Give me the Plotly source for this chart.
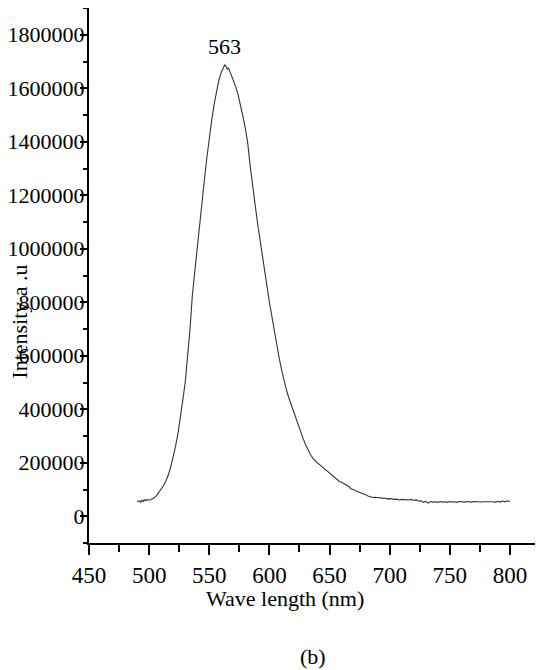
import plotly.graph_objects as go

# Emission spectrum values
wavelength = [
    490, 492, 493, 494, 495, 496, 497, 498, 500, 502, 504, 506, 508, 510,
    512, 514, 516, 518, 520, 522, 524, 526, 528, 530, 532, 534, 536, 538,
    540, 542, 544, 546, 548, 550, 552, 554, 556, 558, 560, 562, 563, 564,
    565, 566, 567, 568, 570, 572, 574, 576, 578, 580, 582, 584, 586, 588,
    590, 592, 594, 596, 598, 600, 602, 604, 606, 608, 610, 612, 614, 616,
    618, 620, 622, 624, 626, 628, 630, 632, 634, 636, 638, 640, 642, 644,
    646, 648, 650, 652, 654, 656, 658, 660, 662, 664, 666, 668, 670, 672,
    674, 676, 678, 680, 682, 684, 686, 688, 690, 692, 694, 696, 698, 700,
    702, 704, 706, 708, 710, 712, 714, 716, 718, 720, 722, 724, 726, 728,
    730, 732, 734, 736, 738, 740, 742, 744, 746, 748, 750, 752, 754, 756,
    758, 760, 762, 764, 766, 768, 770, 772, 774, 776, 778, 780, 782, 784,
    786, 788, 790, 792, 794, 796, 798, 800,
]
intensity = [
    54000, 57000, 52000, 60000, 55000, 62000, 58000, 62000, 60000, 63000,
    68000, 76000, 88000, 100000, 115000, 133000, 155000, 185000, 220000,
    262000, 310000, 365000, 435000, 500000, 590000, 700000, 830000, 920000,
    1010000, 1095000, 1180000, 1260000, 1340000, 1415000, 1480000, 1540000,
    1590000, 1630000, 1660000, 1678000, 1688000, 1682000, 1670000, 1676000,
    1665000, 1655000, 1630000, 1605000, 1575000, 1540000, 1495000, 1450000,
    1395000, 1310000, 1235000, 1170000, 1100000, 1040000, 975000, 915000,
    860000, 800000, 745000, 690000, 640000, 595000, 550000, 510000, 475000,
    445000, 418000, 392000, 366000, 340000, 315000, 291000, 268000, 248000,
    232000, 218000, 207000, 199000, 192000, 184000, 178000, 168000, 162000,
    152000, 145000, 138000, 131000, 127000, 122000, 115000, 111000, 102000,
    100000, 94000, 91000, 86000, 83000, 80000, 76000, 74000, 70000, 71000,
    69000, 70000, 67000, 68000, 65000, 66000, 64000, 63000, 64000, 61000,
    63000, 62000, 60000, 61000, 63000, 60000, 61000, 57000, 58000, 52000,
    56000, 49000, 55000, 53000, 54000, 52000, 55000, 53000, 54000, 52000,
    55000, 53000, 54000, 52000, 55000, 54000, 53000, 55000, 54000, 53000,
    55000, 54000, 55000, 53000, 54000, 54000, 55000, 53000, 54000, 52000,
    56000, 53000, 57000, 54000, 58000, 55000,
]
peak_label = "563"

x_tickvals = [450, 500, 550, 600, 650, 700, 750, 800]
y_tickvals = [0, 200000, 400000, 600000, 800000, 1000000, 1200000,
              1400000, 1600000, 1800000]

font_family = "Liberation Serif"
text_font = dict(family=font_family, size=22, color="black")

fig = go.Figure()

fig.add_trace(go.Scatter(
    x=wavelength,
    y=intensity,
    mode="lines",
    line=dict(color="#333333", width=1.1),
    showlegend=False,
))

peak_i = intensity.index(max(intensity))
fig.add_annotation(
    x=wavelength[peak_i], y=intensity[peak_i],
    text=peak_label, showarrow=False,
    xanchor="center", yanchor="middle", yshift=18,
    font=text_font,
)

# axis title on the left sits a bit lower than the axis centre
fig.add_annotation(
    x=-0.156, y=0.413, xref="paper", yref="paper",
    text="Intensity a .u", textangle=-90, showarrow=False,
    xanchor="center", yanchor="middle",
    font=text_font,
)
fig.add_annotation(
    x=0.435, y=-0.103, xref="paper", yref="paper",
    text="Wave length (nm)", showarrow=False,
    xanchor="center", yanchor="middle",
    font=text_font,
)
fig.add_annotation(
    x=0.497, y=-0.213, xref="paper", yref="paper",
    text="(b)", showarrow=False,
    xanchor="center", yanchor="middle",
    font=text_font,
)

fig.update_xaxes(
    range=[450, 825],
    tickvals=x_tickvals,
    ticks="outside", ticklen=10, tickwidth=1.5, tickcolor="black",
    minor=dict(dtick=25, tick0=450, ticks="outside", ticklen=7,
               tickwidth=1.5, tickcolor="black"),
    showline=True, linecolor="black", linewidth=2,
    showgrid=False, zeroline=False, automargin=False,
    tickfont=dict(family=font_family, size=23, color="black"),
)
fig.update_yaxes(
    range=[-100000, 1900000],
    tickvals=y_tickvals,
    tickformat="d",
    ticks="outside", ticklen=7, tickwidth=1.5, tickcolor="black",
    minor=dict(dtick=100000, tick0=0, ticks="outside", ticklen=4,
               tickwidth=1.5, tickcolor="black"),
    showline=True, linecolor="black", linewidth=2,
    showgrid=False, zeroline=False, automargin=False,
    ticklabelstandoff=-9,
    tickfont=dict(family=font_family, size=22, color="black"),
)

# the page body adds an 8px offset, so margins are pulled in by that much
fig.update_layout(
    width=543, height=670,
    margin=dict(l=81, r=11, t=0, b=135),
    plot_bgcolor="white", paper_bgcolor="white",
    font=dict(family=font_family, color="black"),
)

fig.write_html("out.html")
